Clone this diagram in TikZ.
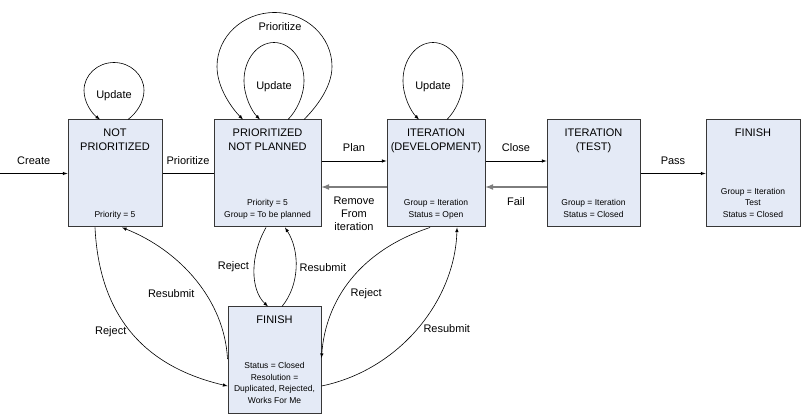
\documentclass[tikz,border=0pt]{standalone}
\usepackage{fontspec}
\setmainfont{Liberation Sans}
\usetikzlibrary{positioning}
\definecolor{boxfill}{RGB}{228,234,246}
\definecolor{boxline}{RGB}{55,55,55}
\definecolor{backline}{RGB}{125,125,125}
\newcommand\mystate[6]{%
  % name, center, width, height, title, fields
  \node[draw=boxline,fill=boxfill,line width=1pt,inner sep=0pt,
        minimum width=#3,minimum height=#4] (#1) at (#2) {};
  \node[below=9.3pt,inner sep=0pt,align=center,
        font=\fontsize{11}{13.5}\selectfont] at (#1.north) {#5};
  \node[above=6.5pt,inner sep=0pt,align=center,
        font=\fontsize{8.5}{11.5}\selectfont] at (#1.south) {#6\strut};
}

\begin{document}
\begin{tikzpicture}[x=1pt,y=-1pt,>=latex,
    every path/.style={line width=0.6pt},
    lbl/.style={inner sep=0pt,font=\fontsize{11}{13}\selectfont,align=center}]
    \useasboundingbox (0,0) rectangle (801,414);

    % states
    \mystate{np}{115,173.5}{94pt}{107pt}{NOT\\PRIORITIZED}{Priority = 5}
    \mystate{pnp}{267.5,173.5}{107pt}{107pt}{PRIORITIZED\\NOT PLANNED}
      {Priority = 5\\Group = To be planned}
    \mystate{dev}{436,173.5}{98pt}{107pt}{ITERATION\\(DEVELOPMENT)}
      {Group = Iteration\\Status = Open}
    \mystate{test}{593.5,173.5}{93pt}{107pt}{ITERATION\\(TEST)}
      {Group = Iteration\\Status = Closed}
    \mystate{fin}{753,173.5}{94pt}{107pt}{FINISH}
      {Group = Iteration\\Test\\Status = Closed}
    \mystate{rej}{274.5,360}{93pt}{106pt}{FINISH}
      {Status = Closed\\Resolution =\\Duplicated, Rejected,\\Works For Me}

    \coordinate (start) at (0,173.5);

    % main line
    \draw[->] (start) -- node[lbl,above=9pt] {Create} (np.west);
    \draw (np.east) -- node[lbl,above=9pt] {Prioritize} (pnp.west);
    \draw[->] ([yshift=12.5pt]pnp.east)
      -- node[lbl,above=9pt] {Plan} ([yshift=12.5pt]dev.west);
    \draw[->,backline,line width=1.6pt] ([yshift=-13.5pt]dev.west)
      -- node[lbl,below=9.5pt,text=black] {Remove\\From\\iteration}
      ([yshift=-13.5pt]pnp.east);
    \draw[->] ([yshift=12.5pt]dev.east)
      -- node[lbl,above=9pt] {Close} ([yshift=12.5pt]test.west);
    \draw[->,backline,line width=1.6pt] ([yshift=-13.5pt]test.west)
      -- node[lbl,below=9.5pt,text=black] {Fail} ([yshift=-13.5pt]dev.east);
    \draw[->] (test.east) -- node[lbl,above=9pt] {Pass} (fin.west);

    % loops on top
    \draw[->] ([xshift=13pt]np.north)
      .. controls +(8,-6) and +(0,12) .. ++(16,-29)
      arc[x radius=30,y radius=28,start angle=0,end angle=-180]
      .. controls +(0,12) and +(-8,-6) .. ([xshift=-15pt]np.north);
    \node[lbl] (upd1) at (114,96) {Update};
    \draw[->] ([xshift=20.5pt]pnp.north)
      .. controls +(8,-8) and +(0,16) .. ++(16,-39)
      arc[x radius=30,y radius=38,start angle=0,end angle=-180]
      .. controls +(0,16) and +(-8,-8) .. ([xshift=-7.5pt]pnp.north);
    \node[lbl] (upd2) at (274,87) {Update};
    \draw[->] ([xshift=36.5pt]pnp.north)
      .. controls +(10,-10) and +(0,22) .. ++(28,-53)
      arc[x radius=57.5,y radius=54,start angle=0,end angle=-180]
      .. controls +(0,22) and +(-10,-10) .. ([xshift=-24.5pt]pnp.north);
    \node[lbl] (prio) at (280,27) {Prioritize};
    \draw[->] ([xshift=11pt]dev.north)
      .. controls +(8,-8) and +(0,16) .. ++(16,-39)
      arc[x radius=30,y radius=38,start angle=0,end angle=-180]
      .. controls +(0,16) and +(-8,-8) .. ([xshift=-17pt]dev.north);
    \node[lbl] (upd3) at (433,87) {Update};

    % reject / resubmit
    \draw[->] ([xshift=-20pt]np.south)
      .. controls +(5,103) and +(-68,-16) ..
      node[lbl,pos=0.45,left=4pt] {Reject} ([yshift=-26pt]rej.west);
    \draw[->] ([yshift=1pt]rej.west)
      .. controls +(-3,-59) and +(58,23) ..
      node[lbl,pos=0.4,left=11pt] {Resubmit} ([xshift=7pt]np.south);
    \draw[->] ([xshift=-1.5pt]pnp.south)
      .. controls +(-16,28) and +(-18,-17) ..
      node[lbl,pos=0.45,left=5pt] {Reject} ([xshift=-6.5pt]rej.north);
    \draw[->] ([xshift=7.5pt]rej.north)
      .. controls +(18,-22) and +(15,23) ..
      node[lbl,pos=0.5,right=3.5pt] {Resubmit} ([xshift=17.5pt]pnp.south);
    \draw[->] ([xshift=-6pt]dev.south)
      .. controls +(-70,23) and +(4,-58) ..
      node[lbl,pos=0.6,right=9pt] {Reject} ([yshift=2pt]rej.east);
    \draw[->] ([yshift=-26pt]rej.east)
      .. controls +(78,-16) and +(-2,73) ..
      node[lbl,pos=0.5,right=5.5pt] {Resubmit} ([xshift=21pt]dev.south);
\end{tikzpicture}
\end{document}
